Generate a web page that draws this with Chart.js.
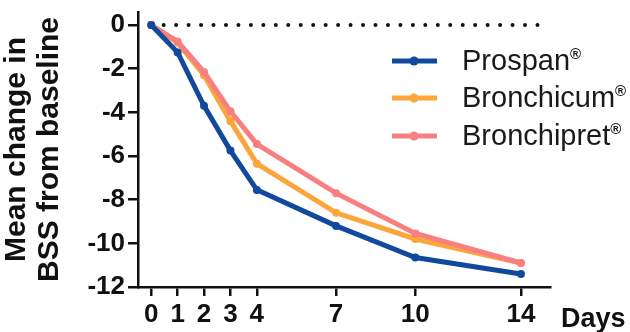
<!DOCTYPE html>
<html>
<head>
<meta charset="utf-8">
<script src="https://cdn.jsdelivr.net/npm/chart.js@4"></script>
<style>
  html, body { margin: 0; padding: 0; background: #fff; }
  #wrap { width: 630px; height: 332px; }
</style>
</head>
<body>
<div id="wrap"><canvas id="bssChart"></canvas></div>
<script>
// days of observation
const days = [0, 1, 2, 3, 4, 7, 10, 14];
const xTicks = [0, 1, 2, 3, 4, 7, 10, 14];
const yTicks = [0, -2, -4, -6, -8, -10, -12];

// mean change in BSS
const prospan = [0, -1.25, -3.7, -5.75, -7.55, -9.2, -10.65, -11.4];
const bronchicum = [0, -0.8, -2.3, -4.4, -6.35, -8.6, -9.8, -10.9];
const bronchipret = [0, -0.75, -2.15, -3.95, -5.45, -7.7, -9.55, -10.9];

// dotted reference line at zero
const refX = [0, 14.7];
const refY = [0, 0];

const seriesNames = ['Prospan', 'Bronchicum', 'Bronchipret'];
const seriesColors = ['#114a9c', '#fba53a', '#f87f80'];

const FONT = '"Liberation Sans", Arial, sans-serif';

const toXY = (xs, ys) => xs.map((x, i) => ({ x: x, y: ys[i] }));

function lineSet(label, data, color, order) {
    return {
        label: label,
        data: toXY(days, data),
        borderColor: color,
        backgroundColor: color,
        borderWidth: 5,
        pointRadius: 4,
        pointHoverRadius: 4,
        pointBorderWidth: 0,
        tension: 0,
        order: order
    };
}

// legend + "Days" label, drawn on the canvas
const extraText = {
    id: 'extraText',
    afterDraw(chart) {
        const ctx = chart.ctx;
        ctx.save();
        const rows = [61, 98, 136];
        seriesNames.forEach((name, i) => {
            const y = rows[i];
            ctx.strokeStyle = seriesColors[i];
            ctx.lineWidth = 5;
            ctx.beginPath();
            ctx.moveTo(392, y);
            ctx.lineTo(437, y);
            ctx.stroke();
            ctx.fillStyle = seriesColors[i];
            ctx.beginPath();
            ctx.arc(414, y, 4.5, 0, Math.PI * 2);
            ctx.fill();

            ctx.fillStyle = '#1a1a1a';
            ctx.textBaseline = 'alphabetic';
            ctx.textAlign = 'left';
            ctx.font = '29px ' + FONT;
            ctx.fillText(name, 462, y + 9);
            const w = ctx.measureText(name).width;
            ctx.font = 'bold 15px ' + FONT;
            ctx.fillText('®', 462 + w, y - 2);
        });
        ctx.fillStyle = '#111';
        ctx.font = 'bold 27px ' + FONT;
        ctx.fillText('Days', 561, 327);
        ctx.restore();
    }
};

new Chart(document.getElementById('bssChart'), {
    type: 'line',
    data: {
        datasets: [
            lineSet(seriesNames[0], prospan, seriesColors[0], 0),
            lineSet(seriesNames[1], bronchicum, seriesColors[1], 2),
            lineSet(seriesNames[2], bronchipret, seriesColors[2], 1),
            {
                label: 'zero',
                data: toXY(refX, refY),
                borderColor: '#111',
                borderWidth: 4,
                borderDash: [0.01, 12.45],
                borderCapStyle: 'round',
                pointRadius: 0,
                order: 3
            }
        ]
    },
    options: {
        responsive: true,
        maintainAspectRatio: false,
        animation: false,
        layout: { padding: { left: 0, top: 12, right: 80, bottom: 0 } },
        scales: {
            x: {
                type: 'linear',
                min: -0.5,
                max: 15.1,
                afterBuildTicks: s => { s.ticks = xTicks.map(v => ({ value: v })); },
                afterFit: s => { s.height = 45; s.paddingLeft = 0; s.paddingRight = 0; },
                grid: { drawOnChartArea: false, drawTicks: true, tickLength: 9, color: '#111', lineWidth: 2.5 },
                border: { display: true, color: '#111', width: 2.5 },
                ticks: {
                    color: '#111',
                    padding: 3,
                    maxRotation: 0,
                    autoSkip: false,
                    font: { family: FONT, size: 26, weight: 'bold' }
                }
            },
            y: {
                min: -12,
                max: 0.6,
                afterBuildTicks: s => { s.ticks = yTicks.map(v => ({ value: v })); },
                afterFit: s => { s.width = 138; s.paddingTop = 0; s.paddingBottom = 0; },
                grid: { drawOnChartArea: false, drawTicks: true, tickLength: 10, color: '#111', lineWidth: 2.5 },
                border: { display: true, color: '#111', width: 2.5 },
                ticks: {
                    color: '#111',
                    padding: 3,
                    font: { family: FONT, size: 26, weight: 'bold' }
                },
                title: {
                    display: true,
                    text: ['Mean change in', 'BSS from baseline'],
                    color: '#111',
                    padding: { top: 1, bottom: 0 },
                    font: { family: FONT, size: 30, weight: 'bold', lineHeight: 1.08 }
                }
            }
        },
        plugins: {
            legend: { display: false },
            tooltip: { enabled: false }
        }
    },
    plugins: [extraText]
});
</script>
</body>
</html>
